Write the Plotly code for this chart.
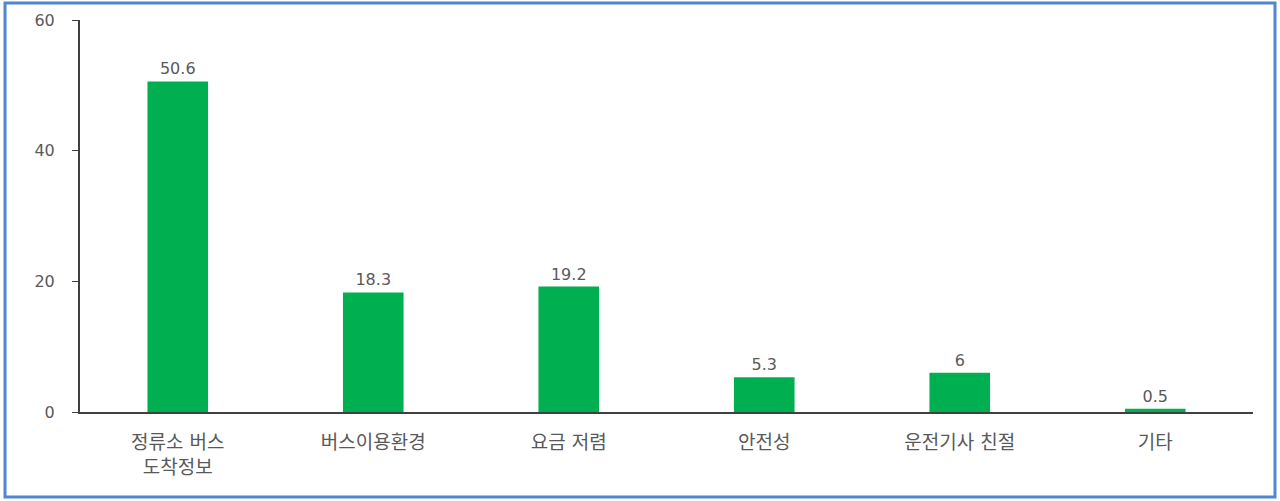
import plotly.graph_objects as go

categories = ["정류소 버스<br>도착정보", "버스이용환경", "요금 저렴", "안전성", "운전기사 친절", "기타"]
values = [50.6, 18.3, 19.2, 5.3, 6, 0.5]
value_labels = ["50.6", "18.3", "19.2", "5.3", "6", "0.5"]
y_ticks = [0, 20, 40, 60]

font_family = "DejaVu Sans, Noto Sans CJK KR, sans-serif"
gray = "#595959"

fig = go.Figure(
    go.Bar(
        x=categories,
        y=values,
        marker=dict(color="#00B050", line=dict(width=0)),
        text=value_labels,
        textposition="outside",
        textfont=dict(size=16, color=gray, family=font_family),
        cliponaxis=False,
    )
)

fig.update_layout(
    width=1280,
    height=501,
    margin=dict(l=80, r=27, t=20, b=89, autoexpand=False),
    paper_bgcolor="white",
    plot_bgcolor="white",
    bargap=0.69,
    showlegend=False,
    font=dict(family=font_family, color=gray, size=16),
    shapes=[
        dict(
            type="rect", xref="paper", yref="paper",
            x0=-75 / 1173, x1=1 + 22 / 1173, y0=-85 / 392, y1=1 + 17 / 392,
            line=dict(color="#4F87D1", width=3), fillcolor="rgba(0,0,0,0)", layer="below",
        )
    ],
)

fig.update_xaxes(
    showline=True, linecolor="#404040", linewidth=2,
    ticks="", showgrid=False, automargin=False,
    tickfont=dict(size=19, color=gray, family=font_family),
    ticklabelstandoff=12,
)
fig.update_yaxes(
    range=[0, 60], tickvals=y_ticks, showline=True, linecolor="#404040", linewidth=2,
    ticks="outside", ticklen=6, tickcolor="#404040", showgrid=False, zeroline=False,
    automargin=False,
    tickfont=dict(size=16, color=gray, family=font_family),
    ticklabelstandoff=14,
)

fig.write_html(
    "out.html",
    config={"displayModeBar": False},
    post_script="document.body.style.margin='0';",
)
